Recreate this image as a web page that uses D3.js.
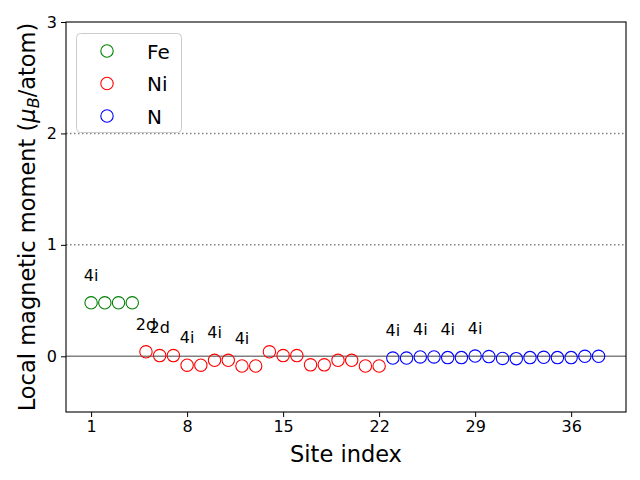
<!DOCTYPE html>
<html>
<head>
<meta charset="utf-8">
<script src="https://cdn.jsdelivr.net/npm/d3@7"></script>
<style>
  html, body { margin: 0; padding: 0; background: #fff; }
  svg { display: block; font-family: "DejaVu Sans", sans-serif; }
</style>
</head>
<body>
<svg id="chart" width="640" height="480"></svg>
<script>
// ---- Data ----
const feSites = [1, 2, 3, 4];
const feValues = [0.48, 0.48, 0.48, 0.48];

const niSites = [5, 6, 7, 8, 9, 10, 11, 12, 13, 14, 15, 16, 17, 18, 19, 20, 21, 22];
const niValues = [0.04, 0.006, 0.006, -0.08, -0.08, -0.036, -0.036, -0.087, -0.087,
                  0.04, 0.006, 0.006, -0.077, -0.077, -0.036, -0.036, -0.087, -0.087];

const nSites = [23, 24, 25, 26, 27, 28, 29, 30, 31, 32, 33, 34, 35, 36, 37, 38];
const nValues = [-0.016, -0.016, -0.006, -0.006, -0.012, -0.012, 0.002, -0.003,
                 -0.019, -0.021, -0.012, -0.009, -0.012, -0.012, 0.0, 0.0];

const siteLabels = [
  { site: 1, text: "4i" },
  { site: 5, text: "2d" },
  { site: 6, text: "2d" },
  { site: 8, text: "4i" },
  { site: 10, text: "4i" },
  { site: 12, text: "4i" },
  { site: 23, text: "4i" },
  { site: 25, text: "4i" },
  { site: 27, text: "4i" },
  { site: 29, text: "4i" }
];

const xTicks = [1, 8, 15, 22, 29, 36];
const yTicks = [0, 1, 2, 3];
const refLines = [1, 2];

const seriesNames = ["Fe", "Ni", "N"];
const seriesColors = ["green", "red", "blue"];

// ---- Layout ----
const svg = d3.select("#chart");
const margin = { left: 66, right: 14, top: 22, bottom: 68 };
const W = 640, H = 480;
const x = d3.scaleLinear().domain([-0.83, 40.0]).range([margin.left, W - margin.right]);
const y = d3.scaleLinear().domain([-0.5, 3]).range([H - margin.bottom, margin.top]);

const series = [
  { name: seriesNames[0], color: seriesColors[0], sites: feSites, values: feValues },
  { name: seriesNames[1], color: seriesColors[1], sites: niSites, values: niValues },
  { name: seriesNames[2], color: seriesColors[2], sites: nSites, values: nValues }
];

const valueAt = {};
series.forEach(s => s.sites.forEach((st, i) => { valueAt[st] = s.values[i]; }));

const clipId = "plotclip";
svg.append("defs").append("clipPath").attr("id", clipId)
  .append("rect")
  .attr("x", margin.left).attr("y", margin.top)
  .attr("width", W - margin.left - margin.right)
  .attr("height", H - margin.top - margin.bottom);

const plot = svg.append("g").attr("clip-path", `url(#${clipId})`);

// Reference lines
plot.selectAll("line.ref").data(refLines).enter().append("line")
  .attr("class", "ref")
  .attr("x1", margin.left).attr("x2", W - margin.right)
  .attr("y1", d => y(d)).attr("y2", d => y(d))
  .attr("stroke", "gray").attr("stroke-width", 1.5)
  .attr("stroke-dasharray", "1.5,2.5");

plot.append("line")
  .attr("x1", margin.left).attr("x2", W - margin.right)
  .attr("y1", y(0)).attr("y2", y(0))
  .attr("stroke", "gray").attr("stroke-width", 1.5);

// Points
series.forEach(s => {
  plot.selectAll(null).data(s.sites.map((st, i) => ({ site: st, v: s.values[i] })))
    .enter().append("circle")
    .attr("cx", d => x(d.site)).attr("cy", d => y(d.v))
    .attr("r", 6.2)
    .attr("fill", "none")
    .attr("stroke", s.color)
    .attr("stroke-width", 1.1);
});

// Site labels
svg.selectAll("text.site").data(siteLabels).enter().append("text")
  .attr("class", "site")
  .attr("x", d => x(d.site))
  .attr("y", d => y(valueAt[d.site] + 0.2))
  .attr("text-anchor", "middle")
  .attr("font-size", 16)
  .attr("fill", "#000")
  .text(d => d.text);

// Axes
const xAxis = d3.axisBottom(x).tickValues(xTicks).tickSize(5).tickPadding(4).tickFormat(d3.format("d"));
const yAxis = d3.axisLeft(y).tickValues(yTicks).tickSize(5).tickPadding(4).tickFormat(d3.format("d"));

const gx = svg.append("g").attr("transform", `translate(0,${H - margin.bottom})`).call(xAxis);
const gy = svg.append("g").attr("transform", `translate(${margin.left},0)`).call(yAxis);
[gx, gy].forEach(g => {
  g.select(".domain").remove();
  g.selectAll(".tick line").attr("stroke", "#000").attr("stroke-width", 1);
  g.selectAll(".tick text").attr("font-size", 16).attr("fill", "#000")
    .attr("font-family", "DejaVu Sans, sans-serif");
});

// Frame
svg.append("rect")
  .attr("x", margin.left).attr("y", margin.top)
  .attr("width", W - margin.left - margin.right)
  .attr("height", H - margin.top - margin.bottom)
  .attr("fill", "none").attr("stroke", "#000").attr("stroke-width", 1.1);

// Axis labels
svg.append("text")
  .attr("x", (margin.left + W - margin.right) / 2)
  .attr("y", 462)
  .attr("text-anchor", "middle")
  .attr("font-size", 22.5)
  .text("Site index");

const yl = svg.append("text")
  .attr("transform", `translate(35,${(margin.top + H - margin.bottom) / 2}) rotate(-90)`)
  .attr("text-anchor", "middle")
  .attr("font-size", 22.5);
yl.append("tspan").text("Local magnetic moment (");
yl.append("tspan").attr("font-style", "italic").text("μ");
yl.append("tspan").attr("font-style", "italic").attr("font-size", 16).attr("dy", 4).text("B");
yl.append("tspan").attr("dy", -4).text("/atom)");

// Legend
const lg = svg.append("g");
lg.append("rect")
  .attr("x", 76.5).attr("y", 33.5).attr("width", 105).attr("height", 99)
  .attr("rx", 4).attr("ry", 4)
  .attr("fill", "#fff").attr("fill-opacity", 0.8)
  .attr("stroke", "#cccccc").attr("stroke-width", 1);
series.forEach((s, i) => {
  const cy = 51 + i * 32.5;
  lg.append("circle").attr("cx", 107).attr("cy", cy).attr("r", 6.2)
    .attr("fill", "none").attr("stroke", s.color).attr("stroke-width", 1.1);
  lg.append("text").attr("x", 147).attr("y", cy + 7.5)
    .attr("font-size", 20).text(s.name);
});
</script>
</body>
</html>
